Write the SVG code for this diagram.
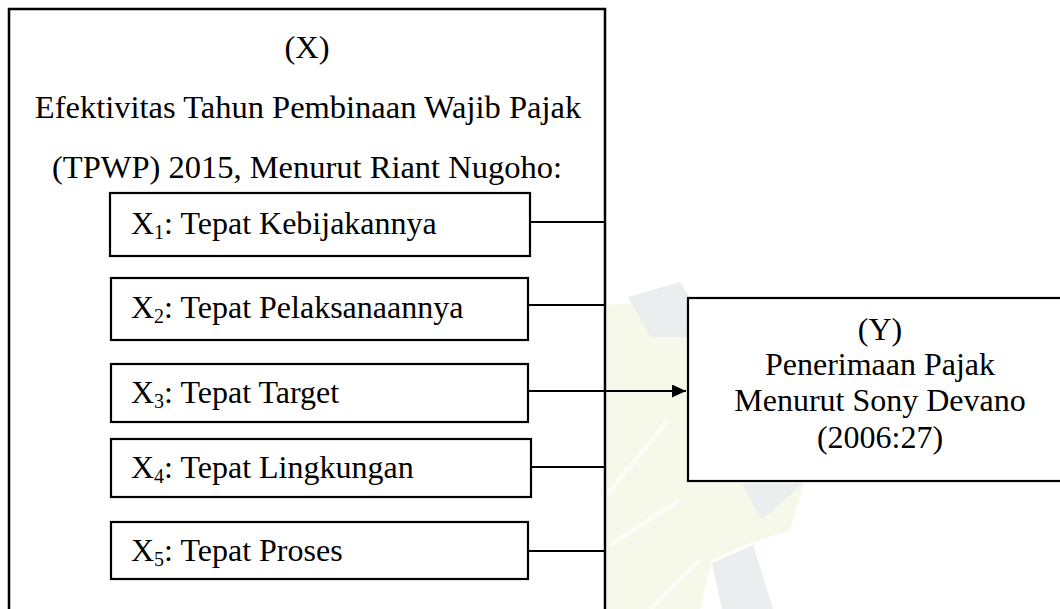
<svg xmlns="http://www.w3.org/2000/svg" width="1060" height="609" viewBox="0 0 1060 609">
<defs>
<style>
text{font-family:"Liberation Serif","Times New Roman",serif;font-size:32px;fill:#000}
.title{font-size:32.5px}
.box{fill:#fff;stroke:#000;stroke-width:2.2}
.frame{fill:none;stroke:#000;stroke-width:2.5}
.conn{stroke:#000;stroke-width:2.2;fill:none}
.sub{font-size:20px}
.wm-g{fill:#eaeeee}
.wm-y{fill:#f6f9e9}
.wm-w{stroke:#fcfdf7;stroke-width:5;fill:none}
</style>
<marker id="arrow" markerWidth="14" markerHeight="13" refX="14" refY="6.5" orient="auto" markerUnits="userSpaceOnUse" viewBox="0 0 14 13">
<path d="M0,0 L14,6.5 L0,13 Z" fill="#000"/>
</marker>
</defs>
<rect width="1060" height="609" fill="#fff"/>
<g id="watermark">
<polygon class="wm-y" points="607,305 688,300 688,481 805,481 790,530 745,545 712,560 700,609 607,609"/>
<polygon class="wm-g" points="628,297 680,282 690,298 690,337 650,337"/>
<polygon class="wm-g" points="742,484 802,484 762,520"/>
<polygon class="wm-g" points="712,563 753,545 773,609 722,609"/>
<path class="wm-w" d="M607,495 L668,420 M610,545 L680,500 M650,609 L700,560"/>
</g>
<g id="node-x">
<path class="frame" d="M9,609 V9 H605 V609"/>
<text class="title" x="307" y="58" text-anchor="middle">(X)</text>
<text class="title" x="308" y="118" text-anchor="middle">Efektivitas Tahun Pembinaan Wajib Pajak</text>
<text class="title" x="307" y="178" text-anchor="middle">(TPWP) 2015, Menurut Riant Nugoho:</text>
</g>
<g id="node-x1">
<rect class="box" x="110" y="193" width="420" height="63"/>
<text x="131" y="234">X<tspan class="sub" dy="5">1</tspan><tspan dy="-5">: Tepat Kebijakannya</tspan></text>
</g>
<g id="node-x2">
<rect class="box" x="111" y="278" width="417" height="62"/>
<text x="131" y="318">X<tspan class="sub" dy="5">2</tspan><tspan dy="-5">: Tepat Pelaksanaannya</tspan></text>
</g>
<g id="node-x3">
<rect class="box" x="111" y="364" width="417" height="58"/>
<text x="131" y="403">X<tspan class="sub" dy="5">3</tspan><tspan dy="-5">: Tepat Target</tspan></text>
</g>
<g id="node-x4">
<rect class="box" x="111" y="439" width="420" height="58"/>
<text x="131" y="478">X<tspan class="sub" dy="5">4</tspan><tspan dy="-5">: Tepat Lingkungan</tspan></text>
</g>
<g id="node-x5">
<rect class="box" x="111" y="522" width="417" height="57"/>
<text x="131" y="561">X<tspan class="sub" dy="5">5</tspan><tspan dy="-5">: Tepat Proses</tspan></text>
</g>
<g id="node-y">
<rect class="box" x="688" y="298" width="420" height="183"/>
<text x="880" y="340" text-anchor="middle">(Y)</text>
<text x="880" y="375" text-anchor="middle">Penerimaan Pajak</text>
<text x="880" y="411" text-anchor="middle">Menurut Sony Devano</text>
<text x="880" y="448" text-anchor="middle">(2006:27)</text>
</g>
<g id="connectors">
<line class="conn" x1="530" y1="222" x2="605" y2="222"/>
<line class="conn" x1="528" y1="305" x2="605" y2="305"/>
<line class="conn" x1="528" y1="391" x2="686" y2="391" marker-end="url(#arrow)"/>
<line class="conn" x1="531" y1="467" x2="605" y2="467"/>
<line class="conn" x1="528" y1="551" x2="605" y2="551"/>
</g>
</svg>
